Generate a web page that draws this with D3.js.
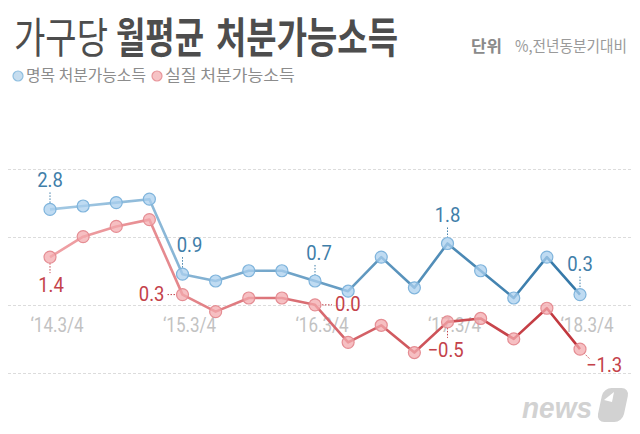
<!DOCTYPE html>
<html>
<head>
<meta charset="utf-8">
<script src="https://cdn.jsdelivr.net/npm/d3@7"></script>
<style>
  html, body { margin: 0; padding: 0; background: #fff; }
  svg { display: block; }
</style>
</head>
<body>
<svg width="640" height="434"></svg>
<script>
// quarters, '14.3/4 .. '18.3/4
const quarters = ["'14.3/4", "'14.4/4", "'15.1/4", "'15.2/4", "'15.3/4", "'15.4/4", "'16.1/4", "'16.2/4",
    "'16.3/4", "'16.4/4", "'17.1/4", "'17.2/4", "'17.3/4", "'17.4/4", "'18.1/4", "'18.2/4", "'18.3/4"];
const tickLabels = ["‘14.3/4", "‘15.3/4", "‘16.3/4", "‘17.3/4", "‘18.3/4"];
const tickIndex = [0, 4, 8, 12, 16];

const nominal = [2.8, 2.9, 3.0, 3.1, 0.9, 0.7, 1.0, 1.0, 0.7, 0.4, 1.4, 0.5, 1.8, 1.0, 0.2, 1.4, 0.3];
const real = [1.4, 2.0, 2.3, 2.5, 0.3, -0.2, 0.2, 0.2, 0.0, -1.1, -0.6, -1.4, -0.5, -0.4, -1.0, -0.1, -1.3];
const labeled = [0, 4, 8, 12, 16];
const gridValues = [-2, 0, 2, 4];

const svg = d3.select('svg');
const kr = '"Noto Sans CJK KR", "Noto Sans", sans-serif';
const num = 'Roboto, "Liberation Sans", sans-serif';

// squeeze a text horizontally into a given width (the original uses a condensed face)
function fitText(str, x, y, width, size, weight, color) {
    const t = svg.append('text').text(str)
        .attr('font-family', kr).attr('font-size', size).attr('font-weight', weight).attr('fill', color);
    const w = t.node().getComputedTextLength();
    t.attr('transform', `translate(${x},${y}) scale(${width / w},1)`);
    return t;
}

// title
fitText('가구당', 14, 53, 94, 42, 400, '#4d4d4d');
fitText('월평균', 116, 53, 88, 42, 700, '#4d4d4d');
fitText('처분가능소득', 216, 53, 182, 42, 700, '#4d4d4d');

fitText('단위', 471, 52, 31, 16, 700, '#8a8a8a');
fitText('%,전년동분기대비', 515, 52, 112, 16, 400, '#9a9a9a');

// legend
const legend = [
    { name: '명목 처분가능소득', x: 18, len: 120, fill: '#c6ddef', stroke: '#8fbfe0' },
    { name: '실질 처분가능소득', x: 157, len: 130, fill: '#f6c3c5', stroke: '#e8969b' }
];
legend.forEach(l => {
    svg.append('circle').attr('cx', l.x).attr('cy', 76).attr('r', 5)
        .attr('fill', l.fill).attr('stroke', l.stroke).attr('stroke-width', 1.2);
    fitText(l.name, l.x + 8, 81, l.len, 16, 400, '#8c8c8c');
});

const x = d3.scalePoint().domain(quarters).range([50, 580]);
const y = d3.scaleLinear().domain([-2, 4]).range([373, 168.5]);

// grid
svg.append('g').selectAll('line').data(gridValues).enter().append('line')
    .attr('x1', 8).attr('x2', 633)
    .attr('y1', d => Math.round(y(d)) + 0.5).attr('y2', d => Math.round(y(d)) + 0.5)
    .attr('stroke', '#dcdcdc').attr('stroke-dasharray', '3,2');

// x labels
svg.append('g').selectAll('text').data(tickIndex).enter().append('text')
    .attr('transform', (d, i) => `translate(${x(quarters[d]) + 7},332) scale(0.85,1)`)
    .attr('text-anchor', 'middle').text((d, i) => tickLabels[i])
    .attr('font-family', num).attr('font-size', 20).attr('fill', '#c2c2c2');

const defs = svg.append('defs');
function grad(id, c1, c2) {
    const g = defs.append('linearGradient').attr('id', id)
        .attr('gradientUnits', 'userSpaceOnUse').attr('x1', 50).attr('x2', 580).attr('y1', 0).attr('y2', 0);
    g.append('stop').attr('offset', '0%').attr('stop-color', c1);
    g.append('stop').attr('offset', '100%').attr('stop-color', c2);
}
grad('gBlue', '#a3c9e4', '#3377a7');
grad('gRed', '#f0a2a6', '#c0343b');

const series = [
    { values: real, line: 'url(#gRed)', fill: '#f3a9ad', stroke: '#e58d93', text: '#c4424a' },
    { values: nominal, line: 'url(#gBlue)', fill: '#a9cfee', stroke: '#7fb4dc', text: '#3f7ea9' }
];

// label placement: dx, dy of text, anchor, leader line
const placeNominal = {
    0: { dx: 0, dy: -22, a: 'middle', l: [0, -17, 0, -6] },
    4: { dx: 7, dy: -22, a: 'middle', l: [0, -17, 0, -6] },
    8: { dx: 4, dy: -21, a: 'middle', l: [0, -16, 0, -6] },
    12: { dx: 0, dy: -21.5, a: 'middle', l: [0, -16, 0, -6] },
    16: { dx: 0, dy: -23.5, a: 'middle', l: [0, -18, 0, -6] }
};
const placeReal = {
    0: { dx: 1, dy: 35, a: 'middle', l: [0, 6, 0, 16] },
    4: { dx: -18, dy: 6.5, a: 'end', l: [-15, 0, -6, 0] },
    8: { dx: 20, dy: 6, a: 'start', l: [7, 0, 17, 0] },
    12: { dx: -20, dy: 35, a: 'start', l: [0, 6, 0, 16] },
    16: { dx: 6, dy: 23, a: 'start', l: [4, 4, 10, 10] }
};

const line = d3.line().x((d, i) => x(quarters[i])).y(d => y(d));

series.forEach((s, si) => {
    const place = si === 0 ? placeReal : placeNominal;
    const g = svg.append('g');
    // leaders
    labeled.forEach(i => {
        const p = place[i];
        const px = x(quarters[i]), py = y(s.values[i]);
        g.append('line')
            .attr('x1', px + p.l[0]).attr('y1', py + p.l[1])
            .attr('x2', px + p.l[2]).attr('y2', py + p.l[3])
            .attr('stroke', s.text).attr('stroke-width', 1).attr('stroke-dasharray', '1.5,1.5');
    });
    g.append('path').datum(s.values).attr('d', line)
        .attr('fill', 'none').attr('stroke', s.line).attr('stroke-width', 2.6)
        .attr('stroke-linejoin', 'round');
    g.selectAll('circle').data(s.values).enter().append('circle')
        .attr('cx', (d, i) => x(quarters[i])).attr('cy', d => y(d)).attr('r', 6)
        .attr('fill', s.fill).attr('fill-opacity', 0.75)
        .attr('stroke', s.stroke).attr('stroke-width', 1.2);
    labeled.forEach(i => {
        const p = place[i];
        const v = s.values[i];
        const str = v < 0 ? '−' + Math.abs(v).toFixed(1) : v.toFixed(1);
        g.append('text')
            .attr('transform', `translate(${x(quarters[i]) + p.dx},${y(v) + p.dy}) scale(0.88,1)`)
            .attr('text-anchor', p.a).text(str)
            .attr('font-family', num).attr('font-size', 21).attr('fill', s.text);
    });
});

// watermark
const wm = svg.append('g').attr('fill', '#d2d2d2');
wm.append('text').attr('x', 522).attr('y', 418).text('news')
    .attr('font-family', '"Liberation Sans", Arial, sans-serif').attr('font-size', 30)
    .attr('font-weight', 700).attr('font-style', 'italic')
    .attr('textLength', 70).attr('lengthAdjust', 'spacingAndGlyphs');
wm.append('rect').attr('x', 600).attr('y', 388).attr('width', 26).attr('height', 34).attr('rx', 8)
    .attr('transform', 'skewX(-12) translate(86,0)');
wm.append('path').attr('d', 'M604,400 L614,392 L612,402 Z').attr('fill', '#fff');
</script>
</body>
</html>
